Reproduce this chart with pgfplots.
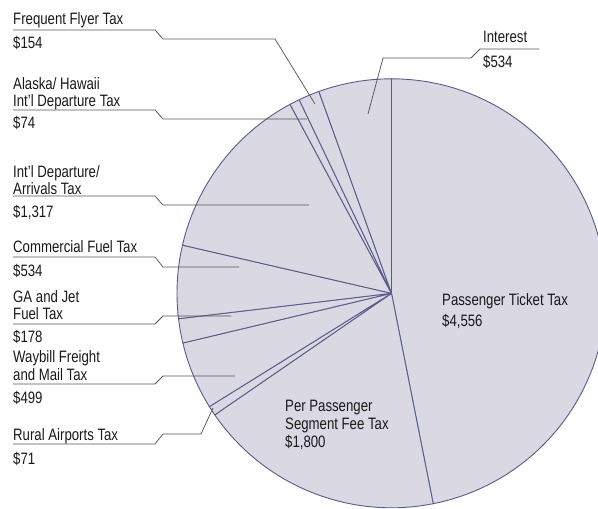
\documentclass[border=0pt]{standalone}
\usepackage{pgfplots}
\pgfplotsset{compat=1.18}
\usepackage{pgfplotstable}
\usepackage{fontspec}
\setmainfont{Liberation Sans}[FakeStretch=0.80]

\definecolor{piefill}{RGB}{217,216,227}
\definecolor{pieline}{RGB}{88,92,138}
\definecolor{leadc}{RGB}{85,85,85}
\definecolor{txt}{RGB}{25,25,25}

\pgfplotstableread[col sep=comma]{
tax,value
Passenger Ticket Tax,4556
Per Passenger Segment Fee Tax,1800
Rural Airports Tax,71
Waybill Freight and Mail Tax,499
GA and Jet Fuel Tax,178
Commercial Fuel Tax,534
Intl Departure/Arrivals Tax,1317
Alaska/Hawaii Intl Departure Tax,74
Frequent Flyer Tax,154
Interest,534
}\piedata

\pgfplotstablegetrowsof{\piedata}
\pgfmathtruncatemacro\lastrow{\pgfplotsretval-1}
\gdef\pietotal{0}
\foreach \i in {0,...,\lastrow}{%
  \pgfplotstablegetelem{\i}{value}\of\piedata
  \pgfmathsetmacro\tmp{\pietotal+\pgfplotsretval}%
  \xdef\pietotal{\tmp}%
}
\gdef\piecum{0}
\foreach \i in {0,...,\lastrow}{%
  \pgfplotstablegetelem{\i}{value}\of\piedata
  \pgfmathsetmacro\a{90-(\piecum/\pietotal)*360}%
  \pgfmathsetmacro\c{\piecum+\pgfplotsretval}%
  \xdef\piecum{\c}%
  \pgfmathsetmacro\b{90-(\piecum/\pietotal)*360}%
  \expandafter\xdef\csname pieA\i\endcsname{\a}%
  \expandafter\xdef\csname pieB\i\endcsname{\b}%
}

\begin{document}
\begin{tikzpicture}[
  lbl/.style={anchor=base west, inner sep=0pt, text=txt, font=\fontsize{16.5}{18}\selectfont},
  lead/.style={draw=leadc, line width=0.75pt}]
\begin{axis}[scale only axis, width=598pt, height=509pt,
  xmin=0, xmax=598, ymin=0, ymax=509, y dir=reverse,
  hide axis, clip=false]
\pgfplotsinvokeforeach{0,...,9}{
  \filldraw[fill=piefill, draw=pieline, line width=0.9pt, line join=round]
   (axis cs:391.5,293.3) -- ++(\csname pieA#1\endcsname:214.5pt)
   arc[start angle=\csname pieA#1\endcsname, end angle=\csname pieB#1\endcsname, radius=214.5pt] -- cycle;
}
% leader lines
\draw[lead] (axis cs:13,30) -- (axis cs:155,30) -- (axis cs:163,39) -- (axis cs:275,39) -- (axis cs:315,104);
\draw[lead] (axis cs:13,110) -- (axis cs:155,110) -- (axis cs:163,119) -- (axis cs:307,119);
\draw[lead] (axis cs:13,196) -- (axis cs:155,196) -- (axis cs:163,205) -- (axis cs:309,205);
\draw[lead] (axis cs:13,257) -- (axis cs:155,257) -- (axis cs:163,267) -- (axis cs:239,267);
\draw[lead] (axis cs:13,324) -- (axis cs:155,324) -- (axis cs:163,316) -- (axis cs:231,316);
\draw[lead] (axis cs:13,384) -- (axis cs:155,384) -- (axis cs:163,376) -- (axis cs:235,376);
\draw[lead] (axis cs:13,444) -- (axis cs:155,444) -- (axis cs:163,434) -- (axis cs:201,434) -- (axis cs:213,408);
\draw[lead] (axis cs:539,49) -- (axis cs:480,49) -- (axis cs:471,58) -- (axis cs:383,58) -- (axis cs:368,114);
% labels
\node[lbl] at (axis cs:13,24) {Frequent Flyer Tax};
\node[lbl] at (axis cs:13,48) {\$154};
\node[lbl] at (axis cs:13,89) {Alaska/ Hawaii};
\node[lbl] at (axis cs:13,106) {Int’l Departure Tax};
\node[lbl] at (axis cs:13,128) {\$74};
\node[lbl] at (axis cs:13,177) {Int’l Departure/};
\node[lbl] at (axis cs:13,194) {Arrivals Tax};
\node[lbl] at (axis cs:13,217) {\$1,317};
\node[lbl] at (axis cs:13,252) {Commercial Fuel Tax};
\node[lbl] at (axis cs:13,276) {\$534};
\node[lbl] at (axis cs:13,302) {GA and Jet};
\node[lbl] at (axis cs:13,319) {Fuel Tax};
\node[lbl] at (axis cs:13,342) {\$178};
\node[lbl] at (axis cs:13,362) {Waybill Freight};
\node[lbl] at (axis cs:13,380) {and Mail Tax};
\node[lbl] at (axis cs:13,403) {\$499};
\node[lbl] at (axis cs:13,440) {Rural Airports Tax};
\node[lbl] at (axis cs:13,464) {\$71};
\node[lbl] at (axis cs:483,42) {Interest};
\node[lbl] at (axis cs:483,67) {\$534};
\node[lbl] at (axis cs:442,305) {Passenger Ticket Tax};
\node[lbl] at (axis cs:442,326) {\$4,556};
\node[lbl] at (axis cs:285,411) {Per Passenger};
\node[lbl] at (axis cs:285,429) {Segment Fee Tax};
\node[lbl] at (axis cs:285,447) {\$1,800};
\end{axis}
\pgfresetboundingbox
\path[use as bounding box] (0,0) rectangle (598pt,509pt);
\end{tikzpicture}
\end{document}
